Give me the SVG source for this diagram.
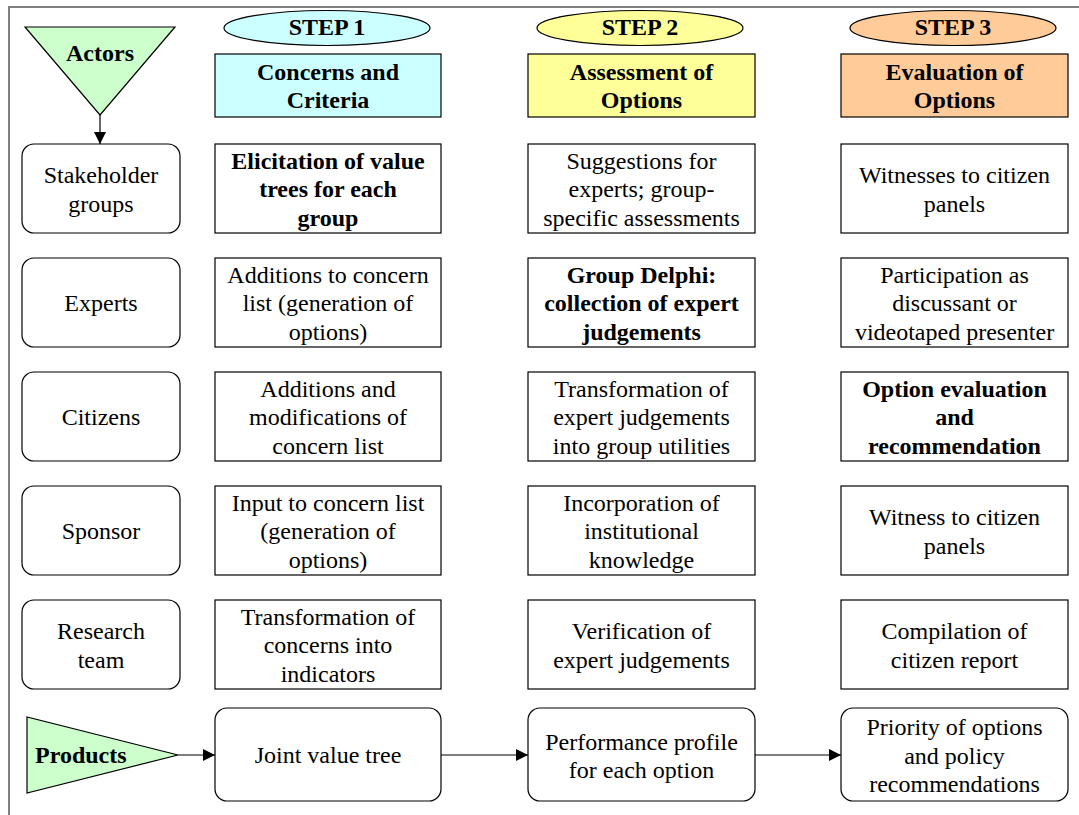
<svg xmlns="http://www.w3.org/2000/svg" width="1079" height="815" viewBox="0 0 1079 815" font-family="'Liberation Serif', 'Times New Roman', Times, 'DejaVu Serif', serif">
  <defs>
    <marker id="arrow" viewBox="0 0 12 12" refX="12" refY="6" markerWidth="12" markerHeight="12" markerUnits="userSpaceOnUse" orient="auto">
      <path d="M0,0 L12,6 L0,12 Z" fill="#000"/>
    </marker>
    <style>
      text { font-size: 24px; fill: #000; text-anchor: middle; }
      .b { font-weight: bold; }
      .box { fill: #fff; stroke: #000; stroke-width: 1.2; }
      .actor { fill: #fff; stroke: #000; stroke-width: 1.2; }
      .tri { fill: #ccffcc; stroke: #000; stroke-width: 1.2; }
      .frame { stroke: #808080; stroke-width: 2; fill: none; }
      .conn { stroke: #000; stroke-width: 1.2; fill: none; marker-end: url(#arrow); }
    </style>
  </defs>

  <rect width="1079" height="815" fill="#fff"/>
  <!-- outer frame -->
  <path class="frame" d="M9,815 V7 H1079"/>

  <!-- column headings -->
  <g id="step1">
    <ellipse cx="327" cy="28" rx="103" ry="17.5" fill="#ccffff" stroke="#000" stroke-width="1.2"/>
    <text class="b" x="327" y="35">STEP 1</text>
  </g>
  <g id="step1-title">
    <rect x="215" y="54" width="226" height="63" fill="#ccffff" stroke="#000" stroke-width="1.2"/>
    <text class="b" x="328" y="80">Concerns and</text>
    <text class="b" x="328" y="108">Criteria</text>
  </g>
  <g id="step2">
    <ellipse cx="640" cy="28" rx="103" ry="17.5" fill="#ffff99" stroke="#000" stroke-width="1.2"/>
    <text class="b" x="640" y="35">STEP 2</text>
  </g>
  <g id="step2-title">
    <rect x="528" y="54" width="227" height="63" fill="#ffff99" stroke="#000" stroke-width="1.2"/>
    <text class="b" x="641.5" y="80">Assessment of</text>
    <text class="b" x="641.5" y="108">Options</text>
  </g>
  <g id="step3">
    <ellipse cx="953" cy="28" rx="103" ry="17.5" fill="#ffcc99" stroke="#000" stroke-width="1.2"/>
    <text class="b" x="953" y="35">STEP 3</text>
  </g>
  <g id="step3-title">
    <rect x="841" y="54" width="227" height="63" fill="#ffcc99" stroke="#000" stroke-width="1.2"/>
    <text class="b" x="954.5" y="80">Evaluation of</text>
    <text class="b" x="954.5" y="108">Options</text>
  </g>

  <!-- actors -->
  <g id="actors">
    <polygon class="tri" points="25,27 175,27 100,115"/>
    <text class="b" x="100" y="61">Actors</text>
  </g>
  <g id="stakeholders">
    <rect class="actor" x="22" y="144" width="158" height="89" rx="12"/>
    <text x="101" y="183">Stakeholder</text>
    <text x="101" y="211.5">groups</text>
  </g>
  <g id="experts">
    <rect class="actor" x="22" y="258" width="158" height="89" rx="12"/>
    <text x="101" y="311">Experts</text>
  </g>
  <g id="citizens">
    <rect class="actor" x="22" y="372" width="158" height="89" rx="12"/>
    <text x="101" y="425">Citizens</text>
  </g>
  <g id="sponsor">
    <rect class="actor" x="22" y="486" width="158" height="89" rx="12"/>
    <text x="101" y="539">Sponsor</text>
  </g>
  <g id="research-team">
    <rect class="actor" x="22" y="600" width="158" height="89" rx="12"/>
    <text x="101" y="639">Research</text>
    <text x="101" y="667.5">team</text>
  </g>

  <!-- step 1 cells -->
  <g id="s1-stakeholders">
    <rect class="box" x="215" y="144" width="226" height="89"/>
    <text class="b" x="328" y="168.5">Elicitation of value</text>
    <text class="b" x="328" y="197">trees for each</text>
    <text class="b" x="328" y="225.5">group</text>
  </g>
  <g id="s1-experts">
    <rect class="box" x="215" y="258" width="226" height="89"/>
    <text x="328" y="282.5">Additions to concern</text>
    <text x="328" y="311">list (generation of</text>
    <text x="328" y="339.5">options)</text>
  </g>
  <g id="s1-citizens">
    <rect class="box" x="215" y="372" width="226" height="89"/>
    <text x="328" y="396.5">Additions and</text>
    <text x="328" y="425">modifications of</text>
    <text x="328" y="453.5">concern list</text>
  </g>
  <g id="s1-sponsor">
    <rect class="box" x="215" y="486" width="226" height="89"/>
    <text x="328" y="510.5">Input to concern list</text>
    <text x="328" y="539">(generation of</text>
    <text x="328" y="567.5">options)</text>
  </g>
  <g id="s1-research">
    <rect class="box" x="215" y="600" width="226" height="89"/>
    <text x="328" y="624.5">Transformation of</text>
    <text x="328" y="653">concerns into</text>
    <text x="328" y="681.5">indicators</text>
  </g>

  <!-- step 2 cells -->
  <g id="s2-stakeholders">
    <rect class="box" x="528" y="144" width="227" height="89"/>
    <text x="641.5" y="168.5">Suggestions for</text>
    <text x="641.5" y="197">experts; group-</text>
    <text x="641.5" y="225.5">specific assessments</text>
  </g>
  <g id="s2-experts">
    <rect class="box" x="528" y="258" width="227" height="89"/>
    <text class="b" x="641.5" y="282.5">Group Delphi:</text>
    <text class="b" x="641.5" y="311">collection of expert</text>
    <text class="b" x="641.5" y="339.5">judgements</text>
  </g>
  <g id="s2-citizens">
    <rect class="box" x="528" y="372" width="227" height="89"/>
    <text x="641.5" y="396.5">Transformation of</text>
    <text x="641.5" y="425">expert judgements</text>
    <text x="641.5" y="453.5">into group utilities</text>
  </g>
  <g id="s2-sponsor">
    <rect class="box" x="528" y="486" width="227" height="89"/>
    <text x="641.5" y="510.5">Incorporation of</text>
    <text x="641.5" y="539">institutional</text>
    <text x="641.5" y="567.5">knowledge</text>
  </g>
  <g id="s2-research">
    <rect class="box" x="528" y="600" width="227" height="89"/>
    <text x="641.5" y="639">Verification of</text>
    <text x="641.5" y="667.5">expert judgements</text>
  </g>

  <!-- step 3 cells -->
  <g id="s3-stakeholders">
    <rect class="box" x="841" y="144" width="227" height="89"/>
    <text x="954.5" y="183">Witnesses to citizen</text>
    <text x="954.5" y="211.5">panels</text>
  </g>
  <g id="s3-experts">
    <rect class="box" x="841" y="258" width="227" height="89"/>
    <text x="954.5" y="282.5">Participation as</text>
    <text x="954.5" y="311">discussant or</text>
    <text x="954.5" y="339.5">videotaped presenter</text>
  </g>
  <g id="s3-citizens">
    <rect class="box" x="841" y="372" width="227" height="89"/>
    <text class="b" x="954.5" y="396.5">Option evaluation</text>
    <text class="b" x="954.5" y="425">and</text>
    <text class="b" x="954.5" y="453.5">recommendation</text>
  </g>
  <g id="s3-sponsor">
    <rect class="box" x="841" y="486" width="227" height="89"/>
    <text x="954.5" y="525">Witness to citizen</text>
    <text x="954.5" y="553.5">panels</text>
  </g>
  <g id="s3-research">
    <rect class="box" x="841" y="600" width="227" height="89"/>
    <text x="954.5" y="639">Compilation of</text>
    <text x="954.5" y="667.5">citizen report</text>
  </g>

  <!-- products -->
  <g id="products">
    <polygon class="tri" points="27,717 27,793 178,755"/>
    <text class="b" x="35" y="763" style="text-anchor:start">Products</text>
  </g>
  <g id="joint-value-tree">
    <rect class="actor" x="215" y="708" width="226" height="93" rx="12"/>
    <text x="328" y="763">Joint value tree</text>
  </g>
  <g id="performance-profile">
    <rect class="actor" x="528" y="708" width="227" height="93" rx="12"/>
    <text x="641.5" y="749.5">Performance profile</text>
    <text x="641.5" y="778">for each option</text>
  </g>
  <g id="priority-of-options">
    <rect class="actor" x="841" y="708" width="227" height="93" rx="12"/>
    <text x="954.5" y="735">Priority of options</text>
    <text x="954.5" y="763.5">and policy</text>
    <text x="954.5" y="792">recommendations</text>
  </g>

  <!-- connectors -->
  <g id="connectors">
    <line class="conn" x1="100" y1="115" x2="100" y2="144"/>
    <line class="conn" x1="178" y1="755" x2="215" y2="755"/>
    <line class="conn" x1="441" y1="755" x2="528" y2="755"/>
    <line class="conn" x1="755" y1="755" x2="841" y2="755"/>
  </g>
</svg>
